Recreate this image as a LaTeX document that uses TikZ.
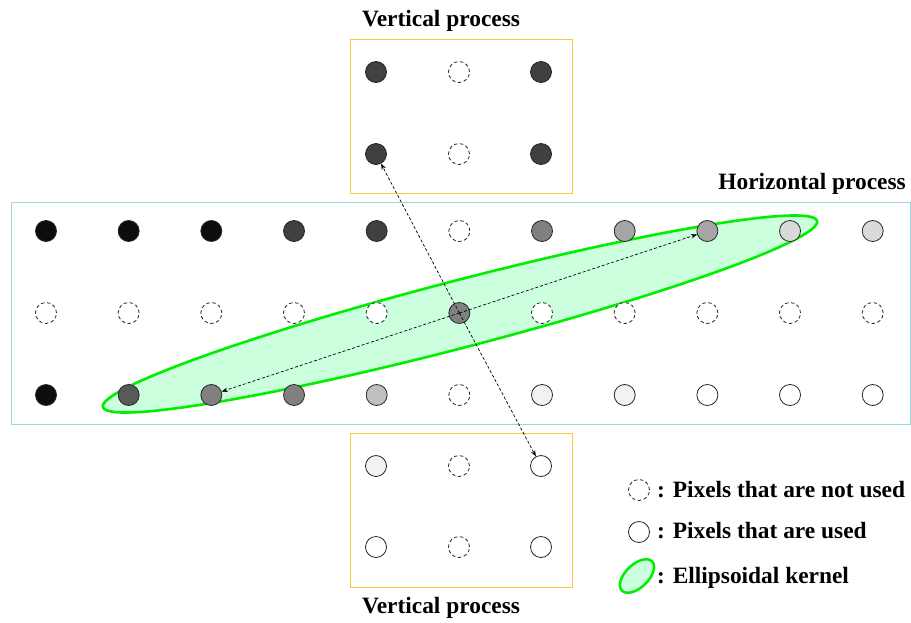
\documentclass[tikz,border=0pt]{standalone}
\usepackage{fontspec}
\setmainfont{Liberation Serif}
\usetikzlibrary{arrows.meta}
\definecolor{gk}{HTML}{0D0D0D}
\definecolor{gd}{HTML}{404040}
\definecolor{gm}{HTML}{595959}
\definecolor{gg}{HTML}{808080}
\definecolor{gl}{HTML}{A6A6A6}
\definecolor{gs}{HTML}{BFBFBF}
\definecolor{gp}{HTML}{D9D9D9}
\definecolor{gw}{HTML}{F2F2F2}
\definecolor{boxgold}{RGB}{255,200,60}
\definecolor{boxteal}{RGB}{160,215,222}
\definecolor{kernline}{HTML}{00EE00}
\definecolor{kernfill}{HTML}{CCFFDD}
\begin{document}
\begin{tikzpicture}[x=1pt,y=-1pt,
  pix/.style={circle,draw=black!85,line width=0.8pt,minimum size=21pt,inner sep=0pt},
  U/.style={pix,dashed,dash pattern=on 3.5pt off 2.5pt,fill=white},
  K/.style={pix,fill=gk},
  D/.style={pix,fill=gd},
  M/.style={pix,fill=gm},
  G/.style={pix,fill=gg},
  L/.style={pix,fill=gl},
  S/.style={pix,fill=gs},
  P/.style={pix,fill=gp},
  W/.style={pix,fill=gw},
  E/.style={pix,fill=white},
  hbox/.style={draw=boxteal,line width=1pt},
  vbox/.style={draw=boxgold,line width=1pt},
  kern/.style={draw=kernline,fill=kernfill},
  arr/.style={densely dashed,dash pattern=on 3pt off 2pt,line width=0.7pt,-{Stealth[length=6pt,width=4.5pt]}},
  lbl/.style={font=\fontsize{23.4}{28}\selectfont\bfseries,inner sep=0pt}]
\useasboundingbox (0,0) rectangle (911,622);

% boxes
\draw[hbox] (11,202) rectangle (910.5,424);
\draw[vbox] (350,39) rectangle (572,193);
\draw[vbox] (350,433) rectangle (572,587);

% kernel
\draw[kern,line width=2.6pt,shift={(460,314)},rotate=14.6] (0,0) ellipse [x radius=369pt, y radius=33.5pt];

% grid of pixels
\foreach \s [count=\c] in {K,K,K,D,D,U,G,L,L,P,P}
  \node[\s] (h-1-\c) at ({46+82.67*(\c-1)},231) {};
\foreach \s [count=\c] in {U,U,U,U,U,G,U,U,U,U,U}
  \node[\s] (h-2-\c) at ({46+82.67*(\c-1)},313) {};
\foreach \s [count=\c] in {K,M,G,G,S,U,W,W,E,E,E}
  \node[\s] (h-3-\c) at ({46+82.67*(\c-1)},395) {};

% top vertical box
\node[D] (t-1-1) at (376,72) {};
\node[U] (t-1-2) at (459,72) {};
\node[D] (t-1-3) at (541,72) {};
\node[D] (t-2-1) at (376,154) {};
\node[U] (t-2-2) at (459,154) {};
\node[D] (t-2-3) at (541,154) {};

% bottom vertical box
\node[W] (b-1-1) at (376,466) {};
\node[U] (b-1-2) at (459,466) {};
\node[E] (b-1-3) at (541,466) {};
\node[E] (b-2-1) at (376,547) {};
\node[U] (b-2-2) at (459,547) {};
\node[E] (b-2-3) at (541,547) {};

% arrows
\draw[arr] (h-2-6.center) -- (t-2-1);
\draw[arr] (h-2-6.center) -- (b-1-3);
\draw[arr] (h-2-6.center) -- (h-1-9);
\draw[arr] (h-2-6.center) -- (h-3-3);

% titles
\node[lbl,anchor=base] (vtop) at (441,26) {Vertical process};
\node[lbl,anchor=base] (vbot) at (441,613) {Vertical process};
\node[lbl,anchor=base east] (hor) at (906,189) {Horizontal process};

% legend
\node[U] (lu) at (639,490) {};
\node[E] (lk) at (639,532) {};
\draw[kern,line width=2.5pt,shift={(637,576)},rotate=44] (0,0) ellipse [x radius=21pt, y radius=11.5pt];
\node[lbl,anchor=base west] (tu) at (657,497) {: Pixels that are not used};
\node[lbl,anchor=base west] (tk) at (657,538) {: Pixels that are used};
\node[lbl,anchor=base west] (te) at (657,583) {: Ellipsoidal kernel};
\end{tikzpicture}
\end{document}
